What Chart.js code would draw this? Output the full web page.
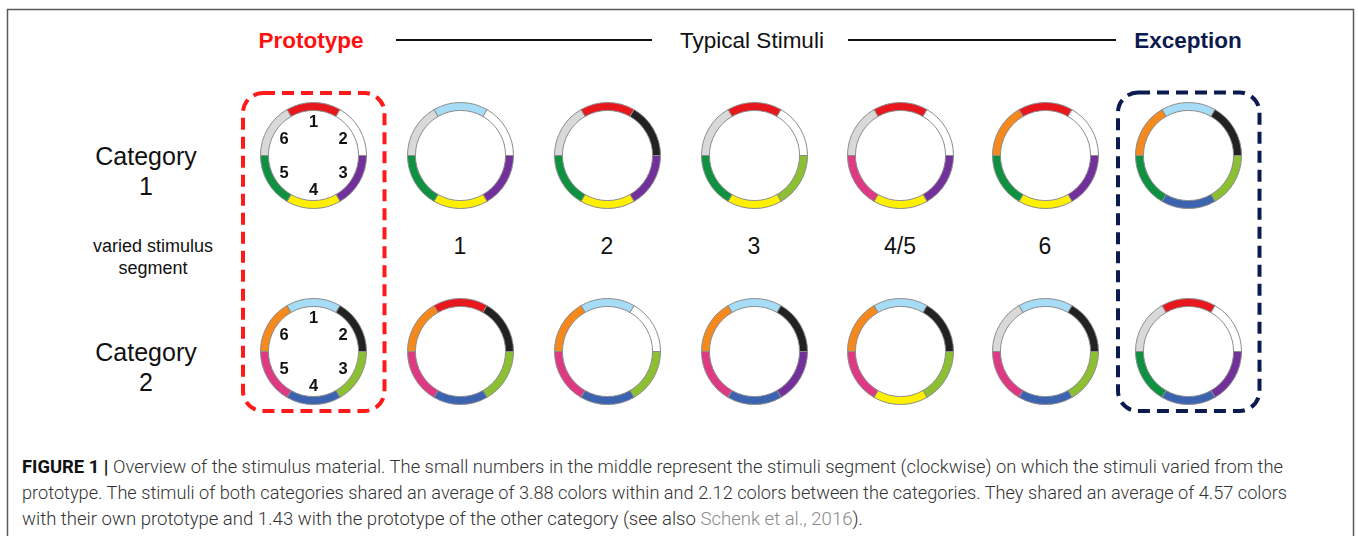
<!DOCTYPE html>
<html>
<head>
<meta charset="utf-8">
<script src="https://cdn.jsdelivr.net/npm/chart.js@4.4.1/dist/chart.umd.min.js"></script>
<style>
  html, body { margin: 0; padding: 0; background: #fff; }
  #wrap { position: relative; width: 1358px; height: 536px; overflow: hidden; background: #fff; font-family: "Liberation Sans", Arial, sans-serif; }
  #wrap svg { position: absolute; left: 0; top: 0; }
  .lbl { position: absolute; color: #111; text-align: center; white-space: nowrap; transform: translate(-50%, -50%); }
  canvas.ring { position: absolute; }
</style>
</head>
<body>
<div id="wrap">
  <svg width="1358" height="536" xmlns="http://www.w3.org/2000/svg">
    <rect x="7.5" y="9.5" width="1346" height="600" fill="none" stroke="#5a5a5a" stroke-width="1.5"/>
    <line x1="396" y1="40" x2="652" y2="40" stroke="#111" stroke-width="2"/>
    <line x1="848" y1="40" x2="1116" y2="40" stroke="#111" stroke-width="2"/>
    <rect x="243" y="93" width="141.5" height="318" rx="20" ry="20" fill="none" stroke="#ff1a1a" stroke-width="4" stroke-dasharray="12 7"/>
    <rect x="1118" y="92.5" width="141.5" height="318.5" rx="20" ry="20" fill="none" stroke="#0b1a4f" stroke-width="4" stroke-dasharray="12 7"/>
    <text x="311" y="48" text-anchor="middle" font-family="Liberation Sans, Arial, sans-serif" font-weight="bold" font-size="22.5" fill="#ff1010">Prototype</text>
    <text x="752" y="48" text-anchor="middle" font-family="Liberation Sans, Arial, sans-serif" font-size="22.5" fill="#111">Typical Stimuli</text>
    <text x="1188" y="48" text-anchor="middle" font-family="Liberation Sans, Arial, sans-serif" font-weight="bold" font-size="22.5" fill="#0b1a4f">Exception</text>
    <g font-family="Roboto, 'Liberation Sans', sans-serif" font-size="19" fill="#333">
      <text x="22" y="473" textLength="1261" lengthAdjust="spacingAndGlyphs"><tspan font-weight="bold" fill="#111">FIGURE 1 | </tspan><tspan font-weight="300">Overview of the stimulus material. The small numbers in the middle represent the stimuli segment (clockwise) on which the stimuli varied from the</tspan></text>
      <text x="22" y="499" textLength="1265" lengthAdjust="spacingAndGlyphs" font-weight="300">prototype. The stimuli of both categories shared an average of 3.88 colors within and 2.12 colors between the categories. They shared an average of 4.57 colors</text>
      <text x="22" y="525" textLength="841" lengthAdjust="spacingAndGlyphs" font-weight="300">with their own prototype and 1.43 with the prototype of the other category (see also <tspan fill="#8a8a8a">Schenk et al., 2016</tspan>).</text>
    </g>
  </svg>
  <div class="lbl" style="left:146px;top:171px;font-size:25px;line-height:30px;">Category<br>1</div>
  <div class="lbl" style="left:153px;top:257px;font-size:18px;line-height:22px;">varied stimulus<br>segment</div>
  <div class="lbl" style="left:146px;top:367px;font-size:25px;line-height:30px;">Category<br>2</div>
  <div id="nums"></div>
  <div id="rings"></div>
</div>
<script>
// ---- data ----
const segmentNumbers = ['1', '2', '3', '4', '5', '6'];          // clockwise from top
const segmentShare = [1, 1, 1, 1, 1, 1];                         // equal-sized segments
const columnLabels = ['Prototype', '1', '2', '3', '4/5', '6', 'Exception'];
const variedSegmentLabels = ['1', '2', '3', '4/5', '6'];
// colours of segments 1..6 for each stimulus
const cat1Prototype = ['red', 'white', 'purple', 'yellow', 'green', 'gray'];
const cat1Stim1 = ['lightblue', 'white', 'purple', 'yellow', 'green', 'gray'];
const cat1Stim2 = ['red', 'black', 'purple', 'yellow', 'green', 'gray'];
const cat1Stim3 = ['red', 'white', 'lime', 'yellow', 'green', 'gray'];
const cat1Stim45 = ['red', 'white', 'purple', 'yellow', 'pink', 'gray'];
const cat1Stim6 = ['red', 'white', 'purple', 'yellow', 'green', 'orange'];
const cat1Exception = ['lightblue', 'black', 'lime', 'blue', 'green', 'orange'];
const cat2Prototype = ['lightblue', 'black', 'lime', 'blue', 'pink', 'orange'];
const cat2Stim1 = ['red', 'black', 'lime', 'blue', 'pink', 'orange'];
const cat2Stim2 = ['lightblue', 'white', 'lime', 'blue', 'pink', 'orange'];
const cat2Stim3 = ['lightblue', 'black', 'purple', 'blue', 'pink', 'orange'];
const cat2Stim45 = ['lightblue', 'black', 'lime', 'yellow', 'pink', 'orange'];
const cat2Stim6 = ['lightblue', 'black', 'lime', 'blue', 'pink', 'gray'];
const cat2Exception = ['red', 'white', 'purple', 'blue', 'green', 'gray'];

// ---- styles ----
const palette = {
  red: '#e8161d', white: '#ffffff', purple: '#72309a', yellow: '#fff000',
  green: '#0f9142', gray: '#d9d9d9', lightblue: '#a6dcf5', black: '#222222',
  lime: '#8cbf31', blue: '#3c63b0', pink: '#de3a84', orange: '#f5891d'
};
const colX = [313, 460, 607, 754, 900, 1045, 1188];
const rowY = [155, 351];
const R = 53;

const rows = [
  [cat1Prototype, cat1Stim1, cat1Stim2, cat1Stim3, cat1Stim45, cat1Stim6, cat1Exception],
  [cat2Prototype, cat2Stim1, cat2Stim2, cat2Stim3, cat2Stim45, cat2Stim6, cat2Exception]
];

// varied-segment labels between rows
const nums = document.getElementById('nums');
variedSegmentLabels.forEach((t, i) => {
  const d = document.createElement('div');
  d.className = 'lbl';
  d.style.left = colX[i + 1] + 'px';
  d.style.top = '246px';
  d.style.fontSize = '23px';
  d.textContent = t;
  nums.appendChild(d);
});

const segNumberPlugin = {
  id: 'segNumbers',
  afterDatasetsDraw(chart, args, opts) {
    if (!opts.show) return;
    const ctx = chart.ctx;
    const meta = chart.getDatasetMeta(0);
    ctx.save();
    ctx.font = 'bold 16.5px "Liberation Sans", Arial, sans-serif';
    ctx.fillStyle = '#111';
    ctx.textAlign = 'center';
    ctx.textBaseline = 'middle';
    meta.data.forEach((arc, i) => {
      const p = arc.getProps(['x', 'y', 'startAngle', 'endAngle', 'innerRadius'], true);
      const a = (p.startAngle + p.endAngle) / 2;
      const r = p.innerRadius - 11;
      ctx.fillText(chart.data.labels[i], p.x + Math.cos(a) * r, p.y + Math.sin(a) * r + 1);
    });
    ctx.restore();
  }
};

const holder = document.getElementById('rings');
rows.forEach((row, ri) => {
  row.forEach((stim, ci) => {
    const c = document.createElement('canvas');
    c.className = 'ring';
    const size = 2 * R + 1;
    c.width = size; c.height = size;
    c.style.width = size + 'px'; c.style.height = size + 'px';
    c.style.left = (colX[ci] - size / 2) + 'px';
    c.style.top = (rowY[ri] - size / 2) + 'px';
    holder.appendChild(c);
    new Chart(c, {
      type: 'doughnut',
      data: {
        labels: segmentNumbers,
        datasets: [{
          data: segmentShare,
          backgroundColor: stim.map(n => palette[n]),
          borderColor: '#8c8c8c',
          borderWidth: 1
        }]
      },
      options: {
        responsive: false,
        animation: false,
        rotation: -30,
        cutout: '85%',
        layout: { padding: 0 },
        events: [],
        plugins: {
          legend: { display: false },
          tooltip: { enabled: false },
          segNumbers: { show: ci === 0 }
        }
      },
      plugins: [segNumberPlugin]
    });
  });
});
</script>
</body>
</html>
